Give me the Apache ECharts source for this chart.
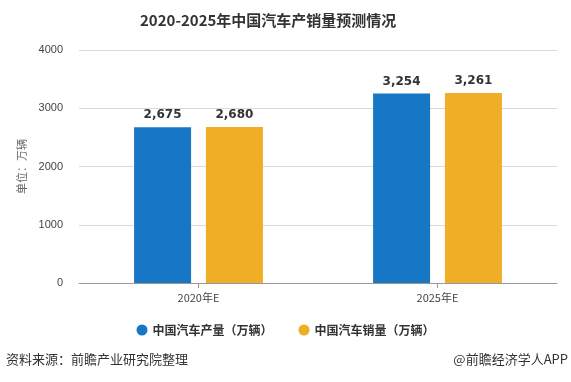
<!DOCTYPE html>
<html><head><meta charset="utf-8">
<script src="https://cdn.jsdelivr.net/npm/echarts@6/dist/echarts.min.js"></script>
<style>html,body{margin:0;padding:0;background:#fff}#c{width:571px;height:382px}</style>
</head><body><div id="c"></div>
<script>
const categories = ['2020年E', '2025年E'];
const production = [2675, 3254];
const sales = [2680, 3261];
const seriesNames = ['中国汽车产量（万辆）', '中国汽车销量（万辆）'];
const yTicks = [0, 1000, 2000, 3000, 4000];

const chart = echarts.init(document.getElementById('c'));
const labelStyle = {show: true, position: 'top', distance: 6, color: '#333', fontWeight: 'bold', fontSize: 12,
  fontFamily: 'Verdana, DejaVu Sans, sans-serif', formatter: p => p.value.toLocaleString('en-US')};
chart.setOption({
  animation: false,
  title: {text: '2020-2025年中国汽车产销量预测情况', left: 135, top: 8,
    textStyle: {fontSize: 15, fontWeight: 'bold', color: '#333', fontFamily: 'Noto Sans CJK SC'}},
  legend: {bottom: 41, left: 'center', itemGap: 26, icon: 'circle', itemWidth: 11, itemHeight: 11,
    textStyle: {fontSize: 12, fontWeight: 'bold', color: '#333', fontFamily: 'Noto Sans CJK SC'}},
  grid: {left: 79, right: 14, top: 50, bottom: 99},
  xAxis: {type: 'category', data: categories,
    axisLine: {lineStyle: {color: '#999'}}, axisTick: {show: true, alignWithLabel: true, length: 5, lineStyle: {color: '#999'}},
    axisLabel: {color: '#444', fontSize: 11, margin: 9, fontFamily: 'Noto Sans CJK SC'}},
  yAxis: {type: 'value', min: yTicks[0], max: yTicks[yTicks.length - 1], interval: 1000,
    name: '单位：万辆', nameLocation: 'middle', nameGap: 52, nameRotate: 90,
    nameTextStyle: {color: '#666', fontSize: 11, fontFamily: 'Noto Sans CJK SC'},
    axisLine: {show: false}, axisTick: {show: false},
    axisLabel: {color: '#444', fontSize: 11, margin: 16, formatter: v => String(v)},
    splitLine: {lineStyle: {color: '#d9d9d9'}}},
  series: [
    {name: seriesNames[0], type: 'bar', data: production, barWidth: 57, barGap: '26%',
      itemStyle: {color: '#1777c4'}, label: labelStyle},
    {name: seriesNames[1], type: 'bar', data: sales, barWidth: 57,
      itemStyle: {color: '#f0ad26'}, label: labelStyle}
  ],
  graphic: [
    {type: 'text', left: 6, top: 353, style: {text: '资料来源：前瞻产业研究院整理', fontSize: 13, fill: '#333', fontFamily: 'Noto Sans CJK SC'}},
    {type: 'text', right: 3, top: 353, style: {text: '@前瞻经济学人APP', fontSize: 13, fill: '#333', fontFamily: 'Noto Sans CJK SC'}}
  ]
});
</script></body></html>
